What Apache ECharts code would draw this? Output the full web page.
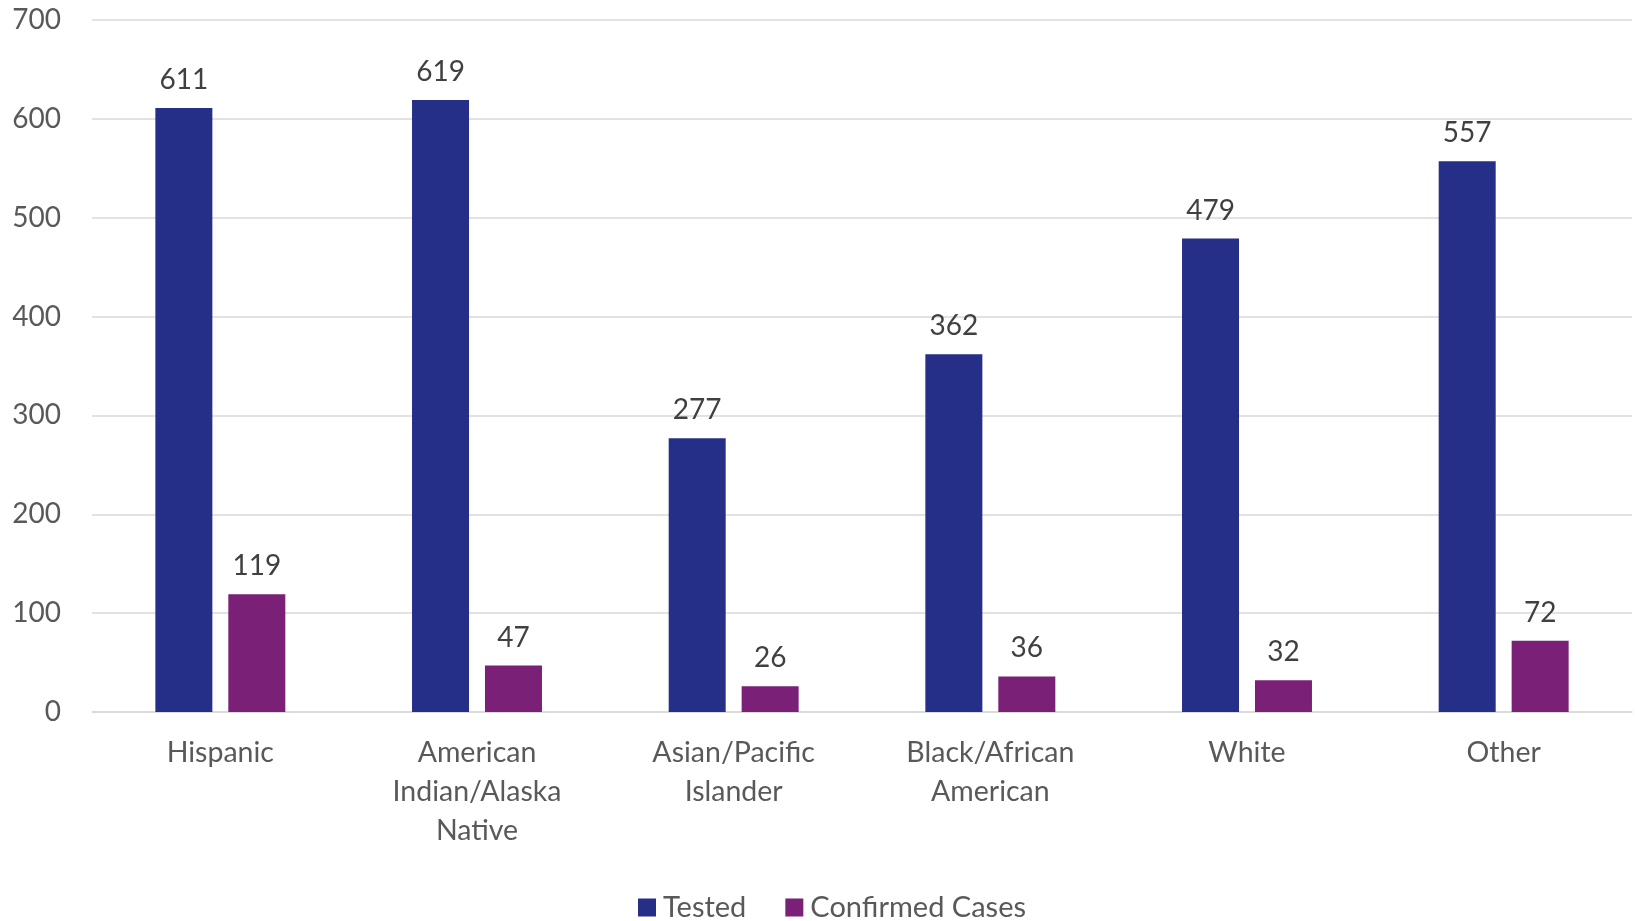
<!DOCTYPE html>
<html><head><meta charset="utf-8">
<script src="https://cdn.jsdelivr.net/npm/echarts@6/dist/echarts.min.js"></script>
<style>html,body{margin:0;padding:0;background:#fff}#c{width:1635px;height:921px}</style>
</head><body><div id="c"></div>
<script>
const categories = ["Hispanic", "American Indian/Alaska Native", "Asian/Pacific Islander", "Black/African American", "White", "Other"];
const tested = [611, 619, 277, 362, 479, 557];
const confirmed = [119, 47, 26, 36, 32, 72];
const seriesNames = ["Tested", "Confirmed Cases"];
const yTicks = { min: 0, max: 700, interval: 100 };

const FONT = 'Lato, "Open Sans", sans-serif';
const chart = echarts.init(document.getElementById('c'), null, { renderer: 'canvas' });
const labelStyle = { show: true, position: 'top', distance: 14, color: '#404040', fontSize: 28, fontFamily: FONT };
chart.setOption({
  animation: false,
  backgroundColor: '#fff',
  grid: { left: 92, right: 3, top: 20, bottom: 209, containLabel: false },
  legend: {
    data: seriesNames, left: 633, bottom: -6, itemWidth: 18, itemHeight: 18, itemGap: 39,
    icon: 'rect', textStyle: { color: '#595959', fontSize: 29, fontFamily: FONT, padding: [0,0,0,2] }
  },
  xAxis: {
    type: 'category', data: categories,
    axisLine: { show: true, lineStyle: { color: '#d9d9d9', width: 1.5 } },
    axisTick: { show: false },
    axisLabel: { color: '#595959', fontSize: 28.5, fontFamily: FONT, margin: 21, lineHeight: 39, interval: 0,
      formatter: v => v.split(' ').join('\n') }
  },
  yAxis: {
    type: 'value', min: yTicks.min, max: yTicks.max, interval: yTicks.interval,
    axisLine: { show: false }, axisTick: { show: false },
    splitLine: { lineStyle: { color: '#d9d9d9', width: 1.5 } },
    axisLabel: { color: '#595959', fontSize: 28, fontFamily: FONT, margin: 31 }
  },
  series: [
    { name: seriesNames[0], type: 'bar', data: tested, barWidth: 57, barGap: '28%', itemStyle: { color: '#262F87' }, label: labelStyle },
    { name: seriesNames[1], type: 'bar', data: confirmed, barWidth: 57, itemStyle: { color: '#7A2177' }, label: labelStyle }
  ]
});
</script></body></html>
